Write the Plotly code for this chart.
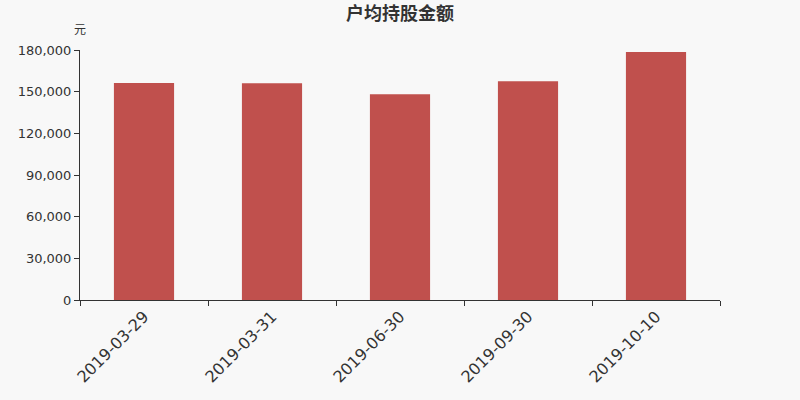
import plotly.graph_objects as go

# Report dates and average holding value per account (yuan)
dates = ["2019-03-29", "2019-03-31", "2019-06-30", "2019-09-30", "2019-10-10"]
avg_value = [156300, 156100, 148100, 157500, 178500]

y_ticks = [0, 30000, 60000, 90000, 120000, 150000, 180000]
y_tick_text = ["0", "30,000", "60,000", "90,000", "120,000", "150,000", "180,000"]

BG = "#f8f8f8"
BAR_COLOR = "#c0504d"
AXIS_COLOR = "#333333"

fig = go.Figure()
fig.add_trace(go.Bar(x=dates, y=avg_value, marker=dict(color=BAR_COLOR, line=dict(width=0))))

fig.update_layout(
    width=800,
    height=400,
    paper_bgcolor=BG,
    plot_bgcolor=BG,
    margin=dict(l=80, r=80, t=50, b=100),
    bargap=0.53,
    showlegend=False,
    font=dict(family="DejaVu Sans, Noto Sans CJK SC", color=AXIS_COLOR),
    title=dict(
        text="户均持股金额",
        x=0.5,
        xanchor="center",
        y=0.967,
        yanchor="middle",
        font=dict(family="Noto Sans CJK SC", size=18, color=AXIS_COLOR, weight="bold"),
    ),
    annotations=[
        dict(
            text="元",
            xref="paper",
            yref="paper",
            x=0,
            y=1.085,
            xanchor="center",
            yanchor="middle",
            showarrow=False,
            font=dict(family="Noto Sans CJK SC", size=12, color=AXIS_COLOR),
        )
    ],
)

fig.update_xaxes(
    type="category",
    showline=True,
    linecolor=AXIS_COLOR,
    linewidth=1,
    ticks="outside",
    tickson="boundaries",
    ticklen=5,
    tickcolor=AXIS_COLOR,
    tickangle=-45,
    tickfont=dict(size=16, color=AXIS_COLOR),
    showgrid=False,
)
fig.update_yaxes(
    range=[0, 180000],
    tickvals=y_ticks,
    ticktext=y_tick_text,
    showline=True,
    linecolor=AXIS_COLOR,
    linewidth=1,
    ticks="outside",
    ticklen=5,
    tickcolor=AXIS_COLOR,
    tickfont=dict(size=13, color=AXIS_COLOR),
    showgrid=False,
    zeroline=False,
)

# drop the default page margin so the chart fills the window
fig.write_html(
    "out.html",
    config={"displayModeBar": False},
    post_script="document.body.style.margin='0';",
)
